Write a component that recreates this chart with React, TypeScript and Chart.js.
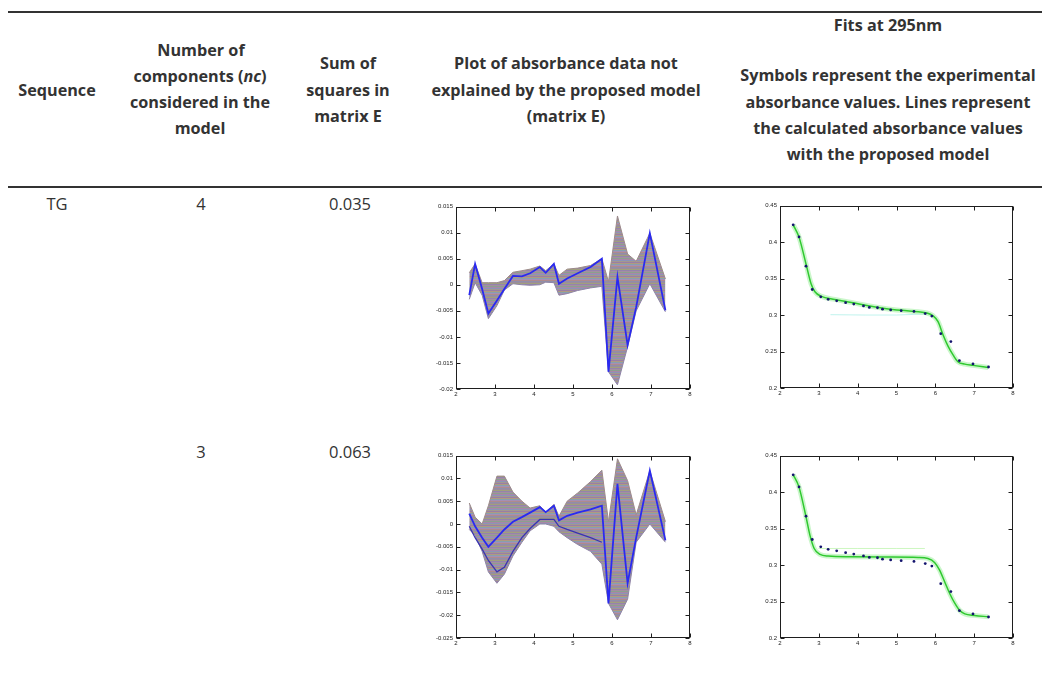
import React, { useEffect, useRef } from "react";
import { Chart, registerables } from "chart.js";
Chart.register(...registerables);

// ---------- DATA ----------
const pHValues = [2.34, 2.49, 2.67, 2.83, 3.05, 3.24, 3.46, 3.69, 3.9, 4.15, 4.3, 4.51, 4.64, 4.85, 5.12, 5.45, 5.74, 5.91, 6.14, 6.4, 6.62, 6.97, 7.37];
const absExperimental = [0.4236, 0.407, 0.367, 0.335, 0.325, 0.3215, 0.3195, 0.317, 0.315, 0.3125, 0.3105, 0.31, 0.308, 0.307, 0.306, 0.305, 0.302, 0.2986, 0.2745, 0.2636, 0.2375, 0.233, 0.2288];

// nc = 4 residuals (matrix E): fan envelope and the blue trace
const resid4Top = [0.0023, 0.004, 0.0004, 0.0004, 0.0004, 0.0008, 0.0024, 0.0027, 0.003, 0.0036, 0.0027, 0.004, 0.0018, 0.003, 0.0032, 0.0037, 0.005, 0.0006, 0.0132, 0.0059, 0.0045, 0.0099, 0.0011];
const resid4Bottom = [-0.0028, 0.0004, -0.002, -0.0065, -0.004, -0.001, 0.0002, 0.0, -0.0001, 0.0, 0.0005, 0.0004, -0.002, -0.0017, -0.0011, -0.0006, -0.0003, -0.0167, -0.0192, -0.0119, -0.005, 0.0002, -0.0052];
const resid4Blue = [-0.002, 0.004, -0.0008, -0.0055, -0.003, -0.0008, 0.0017, 0.0016, 0.0022, 0.0034, 0.0023, 0.004, 0.0002, 0.0012, 0.0022, 0.0034, 0.005, -0.0167, 0.0015, -0.0116, -0.0043, 0.0099, -0.0049];

// nc = 3 residuals
const resid3Top = [0.0046, 0.0015, 0.0, 0.004, 0.0105, 0.0105, 0.007, 0.005, 0.0035, 0.004, 0.0025, 0.0043, 0.0017, 0.005, 0.0068, 0.0093, 0.0118, 0.0005, 0.0143, 0.0095, 0.002, 0.0117, 0.0005];
const resid3Bottom = [-0.0012, -0.0025, -0.006, -0.0105, -0.013, -0.011, -0.007, -0.004, -0.0015, 0.0, 0.0, -0.0005, -0.0017, -0.003, -0.0045, -0.006, -0.0088, -0.0174, -0.021, -0.0165, -0.004, 0.0, -0.004];
const resid3Blue = [0.0023, -0.0005, -0.003, -0.005, -0.003, -0.0012, 0.0005, 0.0015, 0.0025, 0.0037, 0.0026, 0.004, 0.0008, 0.0018, 0.0025, 0.0032, 0.004, -0.0174, 0.0088, -0.013, -0.003, 0.0117, -0.0036];
const resid3Navy = [-0.0005, -0.003, -0.0055, -0.008, -0.0105, -0.0095, -0.006, -0.003, -0.001, 0.001, 0.001, 0.001, -0.0005, -0.0012, -0.002, -0.003, -0.004, null, null, null, null, null, null];

// Fits at 295 nm
const fit4X = [2.34, 2.49, 2.67, 2.8, 2.9, 3.05, 3.41, 3.84, 4.27, 4.7, 5.13, 5.56, 5.77, 5.94, 6.07, 6.2, 6.33, 6.46, 6.58, 6.76, 6.97, 7.36];
const fit4Y = [0.4236, 0.4068, 0.37, 0.343, 0.332, 0.326, 0.3214, 0.3173, 0.3127, 0.309, 0.3064, 0.3045, 0.303, 0.299, 0.291, 0.2727, 0.257, 0.245, 0.236, 0.2327, 0.231, 0.228];
const fit4FaintX = [3.3, 4.2, 5.0, 5.8];
const fit4FaintY = [0.3005, 0.3, 0.3, 0.3015];

const fit3X = [2.34, 2.49, 2.67, 2.77, 2.88, 3.03, 3.24, 3.84, 4.7, 5.56, 5.81, 5.98, 6.11, 6.24, 6.37, 6.5, 6.63, 6.76, 7.01, 7.36];
const fit3Y = [0.4236, 0.4068, 0.366, 0.341, 0.3227, 0.3145, 0.3123, 0.3114, 0.311, 0.3105, 0.309, 0.3036, 0.293, 0.277, 0.261, 0.2477, 0.2377, 0.233, 0.231, 0.229];
const fit3FaintX = [2.99, 4.0, 5.0, 5.73];
const fit3FaintY = [0.3227, 0.3227, 0.3227, 0.3227];

const xTicks = [2, 3, 4, 5, 6, 7, 8];

// ---------- helpers ----------
const pts = (xs: number[], ys: (number | null)[]) => xs.map((x, i) => ({ x, y: ys[i] }));

const boxPlugin = {
  id: "matlabBox",
  afterDraw(chart: any) {
    const { ctx, chartArea: a, scales } = chart;
    ctx.save();
    ctx.strokeStyle = "#1e1e1e";
    ctx.lineWidth = 1;
    const L = Math.round(a.left) + 0.5, R = Math.round(a.right) - 0.5;
    const T = Math.round(a.top) + 0.5, B = Math.round(a.bottom) - 0.5;
    ctx.strokeRect(L, T, R - L, B - T);
    ctx.beginPath();
    scales.x.ticks.forEach((t: any) => {
      const px = Math.round(scales.x.getPixelForValue(t.value)) + 0.5;
      ctx.moveTo(px, B); ctx.lineTo(px, B - 4);
      ctx.moveTo(px, T); ctx.lineTo(px, T + 4);
    });
    scales.y.ticks.forEach((t: any) => {
      const py = Math.round(scales.y.getPixelForValue(t.value)) + 0.5;
      ctx.moveTo(L, py); ctx.lineTo(L + 4, py);
      ctx.moveTo(R, py); ctx.lineTo(R - 4, py);
    });
    ctx.stroke();
    ctx.restore();
  },
};

function makeFanPattern(): CanvasPattern | string {
  const c = document.createElement("canvas");
  c.width = 4; c.height = 14;
  const g = c.getContext("2d");
  if (!g) return "#9a8aa8";
  const rows = ["#9483ad", "#a48fa0", "#8aa08e", "#a986a8", "#8b94b8", "#a29890", "#9a7ea6", "#b09a80", "#86a0ae", "#a58fb5", "#b08a8c", "#8f8eaa", "#9c8c9c", "#a0a07c"];
  rows.forEach((col, i) => { g.fillStyle = col; g.fillRect(0, i, 4, 1); });
  const ctx = document.createElement("canvas").getContext("2d");
  return (ctx && ctx.createPattern(c, "repeat")) || "#9a8aa8";
}

function baseScales(yMin: number, yMax: number, yStep: number, dec: number) {
  const font = { size: 6, family: "Liberation Sans, Arial, sans-serif" };
  return {
    x: {
      type: "linear", min: 2, max: 8,
      afterBuildTicks: (s: any) => { s.ticks = xTicks.map((v) => ({ value: v })); },
      afterFit: (s: any) => { s.height = 12; },
      grid: { display: false, drawTicks: false },
      border: { display: false },
      ticks: { color: "#222", font, padding: 2, maxRotation: 0, callback: (v: any) => String(v) },
    },
    y: {
      type: "linear", min: yMin, max: yMax,
      afterFit: (s: any) => { s.width = 34; },
      grid: { display: false, drawTicks: false },
      border: { display: false },
      ticks: { color: "#222", font, padding: 3, stepSize: yStep, callback: (v: any) => String(Number(Number(v).toFixed(dec))) },
    },
  };
}

type Spec = { left: number; top: number; right: number; bottom: number; build: () => any };

function SmallChart({ spec }: { spec: Spec }) {
  const ref = useRef<HTMLCanvasElement>(null);
  const W = spec.right - (spec.left - 34) + 6;
  const H = spec.bottom - (spec.top - 6) + 12;
  useEffect(() => {
    if (!ref.current) return;
    const cfg = spec.build();
    const chart = new Chart(ref.current, {
      ...cfg,
      options: {
        ...cfg.options,
        animation: false,
        responsive: false,
        devicePixelRatio: 1,
        layout: { padding: { top: 6, right: 6, left: 0, bottom: 0 } },
        plugins: { legend: { display: false }, tooltip: { enabled: false } },
      },
      plugins: [boxPlugin],
    } as any);
    return () => chart.destroy();
  }, []);
  return (
    <canvas
      ref={ref}
      width={W}
      height={H}
      style={{ position: "absolute", left: spec.left - 34, top: spec.top - 6, width: W, height: H }}
    />
  );
}

function residualConfig(top: number[], bottom: number[], blue: number[], extra: (number | null)[] | null, yMin: number) {
  const fan = makeFanPattern();
  const datasets: any[] = [
    { data: pts(pHValues, blue), borderColor: "#2a2af0", borderWidth: 1.8, pointRadius: 0, fill: false },
  ];
  if (extra) datasets.push({ data: pts(pHValues, extra), borderColor: "#3a34b0", borderWidth: 1.3, pointRadius: 0, fill: false, spanGaps: false });
  datasets.push({ data: pts(pHValues, top), borderColor: "#9c8a8a", borderWidth: 1, pointRadius: 0, fill: false });
  datasets.push({ data: pts(pHValues, bottom), borderColor: "#8e84a6", borderWidth: 1, pointRadius: 0, fill: "-1", backgroundColor: fan });
  return {
    type: "line",
    data: { datasets },
    options: { scales: baseScales(yMin, 0.015, 0.005, 3) },
  };
}

function fitConfig(fx: number[], fy: number[], faintX: number[], faintY: number[], faintColor: string) {
  return {
    type: "line",
    data: {
      datasets: [
        { data: pts(pHValues, absExperimental), showLine: false, pointRadius: 1.4, pointBorderWidth: 0, pointBackgroundColor: "#14146e", borderColor: "#14146e" },
        { data: pts(fx, fy), borderColor: "#2fc92f", borderWidth: 1.5, pointRadius: 0, cubicInterpolationMode: "monotone", fill: false },
        { data: pts(fx, fy), borderColor: "rgba(140,236,140,0.45)", borderWidth: 5, pointRadius: 0, cubicInterpolationMode: "monotone", fill: false },
        { data: pts(faintX, faintY), borderColor: faintColor, borderWidth: 1, pointRadius: 0, fill: false },
      ],
    },
    options: { scales: baseScales(0.2, 0.45, 0.05, 2) },
  };
}

const specs: Spec[] = [
  { left: 456, top: 206, right: 690, bottom: 389, build: () => residualConfig(resid4Top, resid4Bottom, resid4Blue, null, -0.02) },
  { left: 780, top: 205, right: 1013, bottom: 388, build: () => fitConfig(fit4X, fit4Y, fit4FaintX, fit4FaintY, "rgba(150,235,225,0.6)") },
  { left: 456, top: 455, right: 690, bottom: 638, build: () => residualConfig(resid3Top, resid3Bottom, resid3Blue, resid3Navy, -0.025) },
  { left: 780, top: 455, right: 1013, bottom: 638, build: () => fitConfig(fit3X, fit3Y, fit3FaintX, fit3FaintY, "rgba(170,240,150,0.6)") },
];

const txt = (content: React.ReactNode, x: number, y: number, bold = true) => (
  <div
    style={{
      position: "absolute", left: x - 250, top: y - 11, width: 500, height: 22, lineHeight: "22px",
      textAlign: "center", fontWeight: bold ? 700 : 400, whiteSpace: "nowrap",
      fontSize: bold ? 16.2 : 16.5,
    }}
  >
    {content}
  </div>
);

export default function App() {
  return (
    <div
      style={{
        position: "absolute", left: 0, top: 0, width: 1042, height: 684, background: "#fff", overflow: "hidden",
        fontFamily: "'Open Sans', Lato, sans-serif", color: "#333",
      }}
    >
      <div style={{ position: "absolute", left: 8, top: 11, width: 1034, height: 1.5, background: "#333" }} />
      <div style={{ position: "absolute", left: 8, top: 186, width: 1034, height: 1.5, background: "#333" }} />

      {txt("Sequence", 57, 90)}
      {txt("Number of", 201, 50)}
      {txt(<>components (<i>nc</i>)</>, 200, 76)}
      {txt("considered in the", 200, 102)}
      {txt("model", 200, 128)}
      {txt("Sum of", 348, 63)}
      {txt("squares in", 348, 90)}
      {txt("matrix E", 348, 116)}
      {txt("Plot of absorbance data not", 566, 63)}
      {txt("explained by the proposed model", 566, 90)}
      {txt("(matrix E)", 566, 116)}
      {txt("Fits at 295nm", 888, 25)}
      {txt("Symbols represent the experimental", 888, 75)}
      {txt("absorbance values. Lines represent", 888, 102)}
      {txt("the calculated absorbance values", 888, 128)}
      {txt("with the proposed model", 888, 154)}

      {txt("TG", 57, 203.5, false)}
      {txt("4", 201, 203.5, false)}
      {txt("0.035", 350, 203.5, false)}
      {txt("3", 201, 451.5, false)}
      {txt("0.063", 350, 451.5, false)}

      {specs.map((s, i) => <SmallChart key={i} spec={s} />)}
    </div>
  );
}
